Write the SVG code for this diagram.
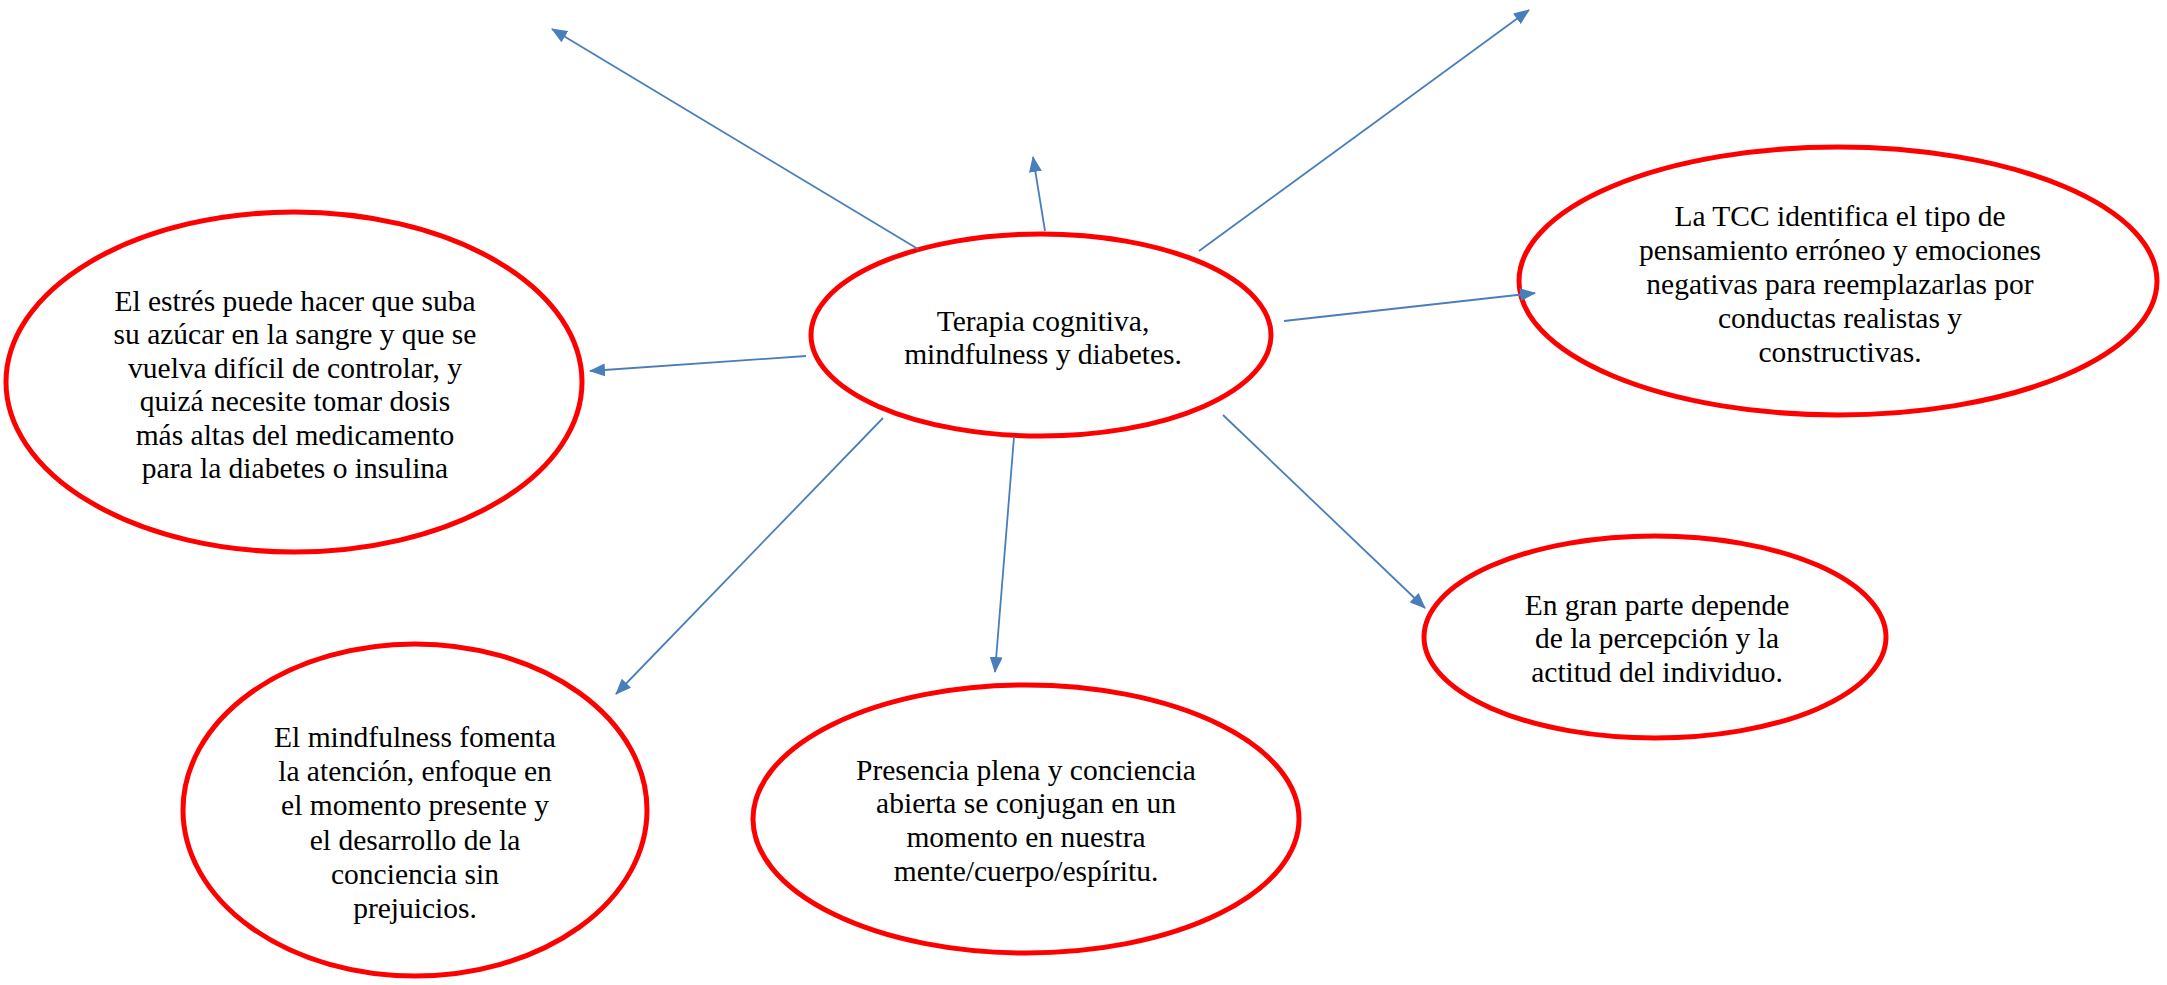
<svg xmlns="http://www.w3.org/2000/svg" width="2167" height="985" viewBox="0 0 2167 985">
<defs>
<marker id="arr" markerUnits="userSpaceOnUse" markerWidth="16" markerHeight="13" refX="15" refY="6.5" orient="auto">
<path d="M0,0 L16,6.5 L0,13 z" fill="#4a7ebb"/>
</marker>
<style>
.node ellipse{fill:#ffffff;stroke:#ff0000;stroke-width:5}
.node text{font-family:"Liberation Serif","Times New Roman",serif;font-size:29.5px;fill:#000000;text-anchor:middle}
#connectors line{stroke:#4a7ebb;stroke-width:1.8;marker-end:url(#arr)}
</style>
</defs>
<rect width="2167" height="985" fill="#ffffff"/>
<g id="center" class="node">
<ellipse cx="1041" cy="335" rx="230" ry="101"/>
<text x="1043" y="331">Terapia cognitiva,</text>
<text x="1043" y="364">mindfulness y diabetes.</text>
</g>
<g id="estres" class="node">
<ellipse cx="294" cy="382" rx="288" ry="170"/>
<text x="295" y="311">El estrés puede hacer que suba</text>
<text x="295" y="344">su azúcar en la sangre y que se</text>
<text x="295" y="378">vuelva difícil de controlar, y</text>
<text x="295" y="411">quizá necesite tomar dosis</text>
<text x="295" y="445">más altas del medicamento</text>
<text x="295" y="478">para la diabetes o insulina</text>
</g>
<g id="tcc" class="node">
<ellipse cx="1838" cy="281" rx="319" ry="134"/>
<text x="1840" y="226">La TCC identifica el tipo de</text>
<text x="1840" y="260">pensamiento erróneo y emociones</text>
<text x="1840" y="294">negativas para reemplazarlas por</text>
<text x="1840" y="328">conductas realistas y</text>
<text x="1840" y="362">constructivas.</text>
</g>
<g id="percepcion" class="node">
<ellipse cx="1655" cy="637" rx="231" ry="101"/>
<text x="1657" y="615">En gran parte depende</text>
<text x="1657" y="648">de la percepción y la</text>
<text x="1657" y="682">actitud del individuo.</text>
</g>
<g id="presencia" class="node">
<ellipse cx="1026" cy="819" rx="273" ry="134"/>
<text x="1026" y="780">Presencia plena y conciencia</text>
<text x="1026" y="813">abierta se conjugan en un</text>
<text x="1026" y="847">momento en nuestra</text>
<text x="1026" y="881">mente/cuerpo/espíritu.</text>
</g>
<g id="mindfulness" class="node">
<ellipse cx="415" cy="810" rx="232" ry="166"/>
<text x="415" y="747">El mindfulness fomenta</text>
<text x="415" y="781">la atención, enfoque en</text>
<text x="415" y="815">el momento presente y</text>
<text x="415" y="850">el desarrollo de la</text>
<text x="415" y="884">conciencia sin</text>
<text x="415" y="918">prejuicios.</text>
</g>
<g id="connectors">
<line x1="918" y1="249" x2="552" y2="29"/>
<line x1="1045" y1="231" x2="1033" y2="157"/>
<line x1="1199" y1="251" x2="1529" y2="10"/>
<line x1="1284" y1="321" x2="1535" y2="293"/>
<line x1="806" y1="356" x2="590" y2="371"/>
<line x1="883" y1="418" x2="616" y2="694"/>
<line x1="1014" y1="437" x2="995" y2="672"/>
<line x1="1223" y1="415" x2="1425" y2="608"/>
</g>
</svg>
